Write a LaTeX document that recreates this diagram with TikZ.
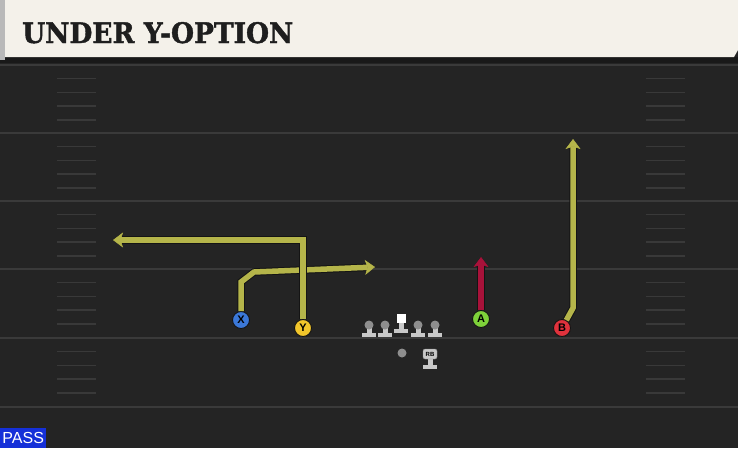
\documentclass[tikz,border=0pt]{standalone}
\usepackage{fontspec}
\setmainfont{Liberation Sans}
\newfontfamily\titlefont[BoldFeatures={FakeBold=1.5}]{DejaVu Serif}
\usetikzlibrary{arrows.meta}
\definecolor{turf}{HTML}{242424}
\definecolor{chalk}{HTML}{3A3A3A}
\definecolor{hashgray}{HTML}{393939}
\definecolor{paper}{HTML}{F4F1EA}
\definecolor{ink}{HTML}{1E1E1E}
\definecolor{passblue}{HTML}{1530D8}
\definecolor{routeyellow}{HTML}{B5B54A}
\definecolor{routered}{HTML}{A8123A}
\definecolor{routeedge}{HTML}{141414}
\definecolor{xblue}{HTML}{3B78D8}
\definecolor{yyellow}{HTML}{F2C62B}
\definecolor{agreen}{HTML}{7ED23A}
\definecolor{bred}{HTML}{E0323C}
\definecolor{body}{HTML}{C8C8C8}
\definecolor{helmet}{HTML}{8E8E8E}
\tikzset{
  yardline/.style={chalk, line width=1.6pt},
  hash/.style={hashgray, line width=1.4pt},
  player/.style={circle, draw=routeedge, line width=0.9pt, minimum size=17pt, inner sep=0pt,
    font=\bfseries\fontsize{11}{11}\selectfont},
  route/.style={routeyellow, line width=5.5pt,
    -{Stealth[length=10pt,width=15pt,inset=2.5pt,line width=0.5pt]},
    preaction={draw=routeedge, line width=7.5pt,
      -{Stealth[length=10pt,width=15pt,inset=2.5pt,line width=2pt]}}},
  hotroute/.style={route, routered},
}
\newcommand{\blocker}[3]{% x, y of base bar, name
  \fill[body] (#1-7,#2) rectangle (#1+7,#2-4);
  \fill[body] (#1-2.5,#2-4) rectangle (#1+2.5,#2-11);
  \fill[helmet] (#1,#2-12) circle (4.5pt);
  \coordinate (#3) at (#1,#2-12);
}
\begin{document}
\begin{tikzpicture}[x=1pt,y=-1pt]
  \useasboundingbox (0,0) rectangle (738,448);
  \fill[turf] (0,0) rectangle (738,448);

  % field markings
  \foreach \y in {65,133,201,269,338,407}
    \draw[yardline] (0,\y) -- (738,\y);
  \foreach \y in {65,133,201,269,338}
    \foreach \k in {1,...,4} {
      \draw[hash] (57,\y+13.7*\k) -- (96,\y+13.7*\k);
      \draw[hash] (646,\y+13.7*\k) -- (685,\y+13.7*\k);
    }

  % header
  \fill[black!90] (0,57) rectangle (738,63);
  \fill[gray!55] (0,0) rectangle (5,60);
  \fill[paper] (5,0) -- (738,0) -- (738,50) -- (734,57) -- (5,57) -- cycle;
  \node[anchor=base west, inner sep=0pt, text=ink] (title) at (22,43)
    {\resizebox{271pt}{21pt}{\titlefont\bfseries UNDER Y-OPTION}};

  \node[fill=passblue, text=white, anchor=south west, inner sep=0pt, minimum width=46pt,
    minimum height=20pt, font=\fontsize{16}{16}\selectfont] (pass) at (0,448) {PASS};

  % line
  \blocker{369}{337}{lt}
  \blocker{385}{337}{lg}
  \fill[body] (394,333) rectangle (408,329);
  \fill[body] (398.5,329) rectangle (403.5,322);
  \node[fill=white, minimum size=9pt, inner sep=0pt] (c) at (401,318) {};
  \blocker{418}{337}{rg}
  \blocker{435}{337}{rt}
  \fill[helmet] (402,353) circle (4.5pt) coordinate (qb);
  \fill[body] (423,369) rectangle (437,365);
  \fill[body] (427.5,365) rectangle (432.5,358);
  \node[fill=body, draw=helmet, rounded corners=2pt, minimum width=14pt, minimum height=10pt,
    inner sep=0pt, font=\bfseries\fontsize{6}{6}\selectfont] (rb) at (430,354) {RB};

  % receivers
  \node[player, fill=xblue] (x) at (241,320) {X};
  \node[player, fill=yyellow] (y) at (303,328) {Y};
  \node[player, fill=agreen] (a) at (481,319) {A};
  \node[player, fill=bred] (b) at (562,328) {B};

  % routes
  \coordinate (x1) at (241,282);
  \coordinate (x2) at (254,272);
  \coordinate (x3) at (375,267);
  \coordinate (y1) at (303,240);
  \coordinate (y2) at (113,240);
  \coordinate (a1) at (481,257);
  \coordinate (b1) at (573,308);
  \coordinate (b2) at (573,139);
  \draw[route] (x) -- (x1) -- (x2) -- (x3);
  \draw[route] (y) -- (y1) -- (y2);
  \draw[hotroute] (a) -- (a1);
  \draw[route] (b) -- (b1) -- (b2);
\end{tikzpicture}
\end{document}
